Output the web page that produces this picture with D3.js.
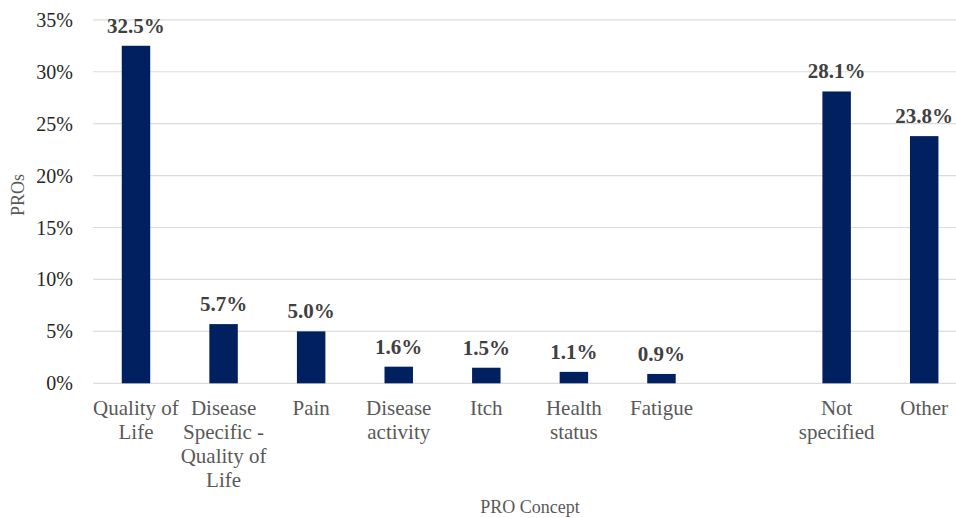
<!DOCTYPE html>
<html>
<head>
<meta charset="utf-8">
<script src="https://cdn.jsdelivr.net/npm/d3@7"></script>
<style>
  html, body { margin: 0; padding: 0; background: #fff; }
  svg { display: block; }
</style>
</head>
<body>
<svg id="chart" width="956" height="518"></svg>
<script>
const categories = ["Quality of Life", "Disease Specific - Quality of Life", "Pain", "Disease activity", "Itch", "Health status", "Fatigue", "", "Not specified", "Other"];
const categoryLines = [["Quality of", "Life"], ["Disease", "Specific -", "Quality of", "Life"], ["Pain"], ["Disease", "activity"], ["Itch"], ["Health", "status"], ["Fatigue"], [], ["Not", "specified"], ["Other"]];
const values = [32.5, 5.7, 5.0, 1.6, 1.5, 1.1, 0.9, null, 28.1, 23.8];
const valueLabels = ["32.5%", "5.7%", "5.0%", "1.6%", "1.5%", "1.1%", "0.9%", "", "28.1%", "23.8%"];
const yTicks = [0, 5, 10, 15, 20, 25, 30, 35];

const svg = d3.select("#chart");
const font = "'Liberation Serif', 'Times New Roman', serif";

const x = d3.scaleBand().domain(categories.map((c, i) => i)).range([92.2, 968]).paddingInner(0.675).paddingOuter(0.3375);
const y = d3.scaleLinear().domain([0, 35]).range([383.3, 19.8]);

// gridlines
svg.append("g").selectAll("line").data(yTicks).join("line")
  .attr("x1", 93).attr("x2", 956)
  .attr("y1", d => y(d)).attr("y2", d => y(d))
  .attr("stroke", "#dcdcdc").attr("stroke-width", 1.2);

// y tick labels
svg.append("g").selectAll("text").data(yTicks).join("text")
  .attr("x", 73).attr("y", d => y(d)).attr("dy", "0.35em")
  .attr("text-anchor", "end")
  .style("font-family", font).style("font-size", "20px").attr("fill", "#262626")
  .text(d => d + "%");

// bars
const data = categories.map((c, i) => ({ i, v: values[i], label: valueLabels[i], lines: categoryLines[i] }));
svg.append("g").selectAll("rect").data(data.filter(d => d.v != null)).join("rect")
  .attr("x", d => x(d.i)).attr("width", x.bandwidth())
  .attr("y", d => y(d.v)).attr("height", d => y(0) - y(d.v))
  .attr("fill", "#002060");

// value labels
svg.append("g").selectAll("text").data(data.filter(d => d.v != null)).join("text")
  .attr("x", d => x(d.i) + x.bandwidth() / 2).attr("y", d => y(d.v) - 13)
  .attr("text-anchor", "middle")
  .style("font-family", font).style("font-size", "21px").style("font-weight", "bold")
  .attr("fill", "#404040")
  .text(d => d.label);

// category labels
const cat = svg.append("g").selectAll("text").data(data).join("text")
  .attr("text-anchor", "middle")
  .style("font-family", font).style("font-size", "21px").attr("fill", "#595959");
cat.each(function(d) {
  const t = d3.select(this);
  d.lines.forEach((l, k) => {
    t.append("tspan").attr("x", x(d.i) + x.bandwidth() / 2).attr("y", 415 + k * 24).text(l);
  });
});

// axis titles
svg.append("text").attr("x", 530).attr("y", 513).attr("text-anchor", "middle")
  .style("font-family", font).style("font-size", "18px").attr("fill", "#595959")
  .text("PRO Concept");
svg.append("text").attr("transform", "translate(24,195) rotate(-90)").attr("text-anchor", "middle")
  .style("font-family", font).style("font-size", "18px").attr("fill", "#595959")
  .text("PROs");
</script>
</body>
</html>
